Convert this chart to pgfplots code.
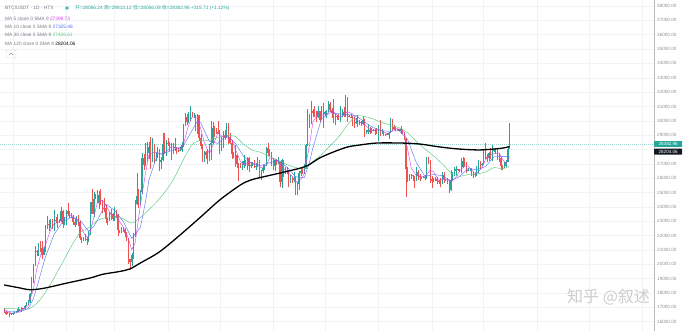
\documentclass[border=0pt]{standalone}
\usepackage{fontspec}
\setmainfont{Liberation Sans}
\newfontfamily\cjk{Noto Sans CJK SC}
\usepackage{pgfplots}
\usepackage{pgfplotstable}
\pgfplotsset{compat=1.18}
\definecolor{upc}{HTML}{26A69A}
\definecolor{dnc}{HTML}{EF5350}
\definecolor{ma5}{HTML}{D63CE8}
\definecolor{ma10}{HTML}{4A6CF7}
\definecolor{ma30}{HTML}{5CC97A}
\definecolor{gridc}{HTML}{F1F3F7}
\definecolor{txtg}{HTML}{787B86}
\definecolor{tagblk}{HTML}{131722}
\newcommand\hdr{\fontsize{4.8}{5}\selectfont}
\newcommand\tkf{\fontsize{4.6}{5}\selectfont}

\pgfplotstableread{
i o h l c
0 16840 16950 16600 16700
1 16700 16780 16480 16550
2 16550 16660 16520 16630
3 16630 16640 16340 16600
4 16600 16640 16480 16540
5 16540 16630 16500 16620
6 16620 16760 16550 16680
7 16680 16780 16600 16680
8 16680 16990 16650 16860
9 16860 16880 16750 16830
10 16830 16990 16670 16950
11 16950 16970 16910 16940
12 16940 17180 16910 17120
13 17120 17390 17100 17180
14 17180 17490 17150 17440
15 17440 17990 17330 17940
16 17940 19110 17900 18850
17 18850 19990 18720 19930
18 19930 21260 19890 20960
19 20960 20990 20600 20880
20 20880 21460 20600 21170
21 21170 21610 20870 21140
22 21140 21650 20400 20680
23 20680 21180 20660 21070
24 21070 22750 20870 22670
25 22670 23370 22440 22780
26 22780 23080 22300 22710
27 22710 23170 22500 22920
28 22920 23160 22480 22630
29 22630 23800 22340 23060
30 23060 23290 22870 23010
31 23010 23500 22550 23080
32 23080 23170 22880 23030
33 23030 23960 22980 23740
34 23740 23790 22550 22830
35 22830 23310 22730 23130
36 23130 23810 22760 23730
37 23730 24250 23370 23490
38 23490 23690 23230 23430
39 23430 23580 23250 23330
40 23330 23430 22750 22940
41 22940 23160 22630 22760
42 22760 23360 22740 23250
43 23250 23450 22690 22960
44 22960 22990 21690 21800
45 21800 21930 21450 21630
46 21630 21900 21600 21860
47 21860 22090 21630 21780
48 21780 21880 21360 21770
49 21770 22330 21530 22200
50 22200 24370 22050 24330
51 24330 25250 23500 23520
52 23520 25020 23330 24570
53 24570 24870 24520 24630
54 24630 25190 24240 24290
55 24290 25120 23850 24840
56 24840 25270 24150 24440
57 24440 24470 23580 24190
58 24190 24600 23610 23950
59 23950 24140 22850 23190
60 23190 23210 22740 23160
61 23160 23670 23050 23560
62 23560 23880 23110 23490
63 23490 23600 23030 23130
64 23130 23970 23020 23640
65 23640 23780 23200 23470
66 23470 23480 21970 22360
67 22360 22400 22180 22350
68 22350 22620 22200 22430
69 22430 22600 22280 22410
70 22410 22550 21930 22200
71 22200 22270 21590 21700
72 21700 21820 20050 20360
73 20360 20400 19570 20190
74 20190 20790 19900 20630
75 20630 22170 20400 22140
76 22140 24500 21890 24200
77 24200 26390 24100 24760
78 24760 25250 23900 24380
79 24380 25200 24130 25050
80 25050 27760 24900 27420
81 27420 27720 26600 26910
82 26910 28450 26870 28040
83 28040 28530 27170 27780
84 27780 28500 27360 28180
85 28180 28900 26630 27300
86 27300 28800 27160 28330
87 28330 28380 27030 27490
88 27490 27800 27170 27490
89 27490 28200 27440 27990
90 27990 28020 26520 27140
91 27140 27500 26640 27270
92 27270 29180 27220 28360
93 28360 29160 27720 28030
94 28030 28660 27530 28480
95 28480 28810 28250 28450
96 28450 28530 27880 28210
97 28210 28480 27260 27800
98 27800 28450 27660 28170
99 28170 28770 27900 28180
100 28180 28180 27720 28040
101 28040 28110 27800 27930
102 27930 28180 27870 27960
103 27960 28530 27810 28340
104 28340 29770 28180 29660
105 29660 30560 29610 30240
106 30240 30500 29700 29900
107 29900 30620 29880 30400
108 30400 31000 29970 30490
109 30490 30610 30230 30320
110 30320 30550 30160 30320
111 30320 30400 29280 29450
112 29450 30480 29100 30390
113 30390 30410 28600 28820
114 28820 29100 28020 28250
115 28250 28370 27130 27270
116 27270 27880 27140 27820
117 27820 27900 27330 27590
118 27590 28000 26970 27520
119 27520 28380 27210 28310
120 28310 30020 27250 28420
121 28420 29890 28380 29480
122 29480 29620 28900 29340
123 29340 29470 29100 29250
124 29250 29960 29080 29230
125 29230 29340 27660 28090
126 28090 28880 27870 28680
127 28680 29260 28130 29030
128 29030 29380 28680 28850
129 28850 29850 28820 29530
130 29530 29820 28390 28900
131 28900 29160 28380 28450
132 28450 28660 27350 27660
133 27660 27830 27380 27630
134 27630 28320 26770 27600
135 27600 27640 26700 26990
136 26990 27040 25810 26800
137 26800 27030 26710 26790
138 26790 27200 26600 26930
139 26930 27650 26740 27170
140 27170 27270 26870 27030
141 27030 27480 26580 27410
142 27410 27480 26400 26830
143 26830 27140 26680 26890
144 26890 27160 26860 27120
145 27120 27260 26680 26750
146 26750 27050 26540 26850
147 26850 27480 26810 27220
148 27220 27300 26090 26330
149 26330 26600 25870 26480
150 26480 26920 26330 26720
151 26720 26920 26560 26870
152 26870 28190 26830 28080
153 28080 28450 27560 27740
154 27740 28050 27570 27700
155 27700 27830 26840 27210
156 27210 27350 26600 26820
157 26820 27300 26510 27250
158 27250 27320 26920 27070
159 27070 27450 26970 27120
160 27120 27130 25400 25730
161 25730 27360 25350 27240
162 27240 27300 26100 26350
163 26350 26790 26290 26500
164 26500 26770 26320 26480
165 26480 26530 25380 25840
166 25840 26210 25640 25940
167 25940 26080 25640 25900
168 25900 26400 25730 25920
169 25920 26080 24820 25120
170 25120 25750 24800 25570
171 25570 26480 25160 26330
172 26330 26770 26170 26510
173 26510 26680 26280 26340
174 26340 27000 26260 26840
175 26840 28400 26620 28310
176 28310 30790 28260 30000
177 30000 30500 29530 29890
178 29890 31400 29810 30690
179 30690 30800 30260 30530
180 30530 31040 30290 30460
181 30460 30650 29900 30270
182 30270 31000 30220 30690
183 30690 30700 29920 30080
184 30080 31000 30030 30450
185 30450 31250 29510 30470
186 30470 30660 30330 30590
187 30590 30780 30200 30620
188 30620 31380 30590 31160
189 31160 31330 30630 30770
190 30770 30880 30200 30510
191 30510 31500 29850 29900
192 29900 30450 29700 30350
193 30350 30380 30050 30290
194 30290 30440 30050 30170
195 30170 31030 29950 30410
196 30410 30800 30280 30620
197 30620 30990 30250 30380
198 30380 31800 30250 31470
199 31470 31640 29940 30320
200 30320 30390 30260 30290
201 30290 30440 30180 30230
202 30230 30340 29660 30140
203 30140 30240 29510 29860
204 29860 30190 29770 29920
205 29920 30410 29570 29800
206 29800 30050 29720 29900
207 29900 29990 29640 29790
208 29790 30340 29740 30080
209 30080 30100 28860 29180
210 29180 29370 29060 29230
211 29230 29690 29100 29350
212 29350 29570 29070 29210
213 29210 29530 29120 29320
214 29320 29410 29260 29360
215 29360 29450 29030 29280
216 29280 29530 29100 29230
217 29230 29740 28580 29700
218 29700 30050 28950 29180
219 29180 29410 29100 29180
220 29180 29310 28970 29080
221 29080 29110 28950 29050
222 29050 29170 28980 29040
223 29040 29250 28700 29180
224 29180 30200 29120 29770
225 29770 30130 29370 29560
226 29560 29700 29330 29430
227 29430 29550 29300 29400
228 29400 29460 29360 29420
229 29420 29460 29260 29280
230 29280 29670 29080 29410
231 29410 29450 29060 29170
232 29170 29230 28690 28700
233 28700 28770 24700 26620
234 26620 26800 25700 26050
235 26050 26260 25800 26090
236 26090 26300 25970 26190
237 26190 26250 25810 26120
238 26120 26130 25350 26040
239 26040 26800 25800 26430
240 26430 26560 25860 26160
241 26160 26300 25770 26050
242 26050 26100 25970 26000
243 26000 26170 25980 26090
244 26090 26240 25880 26100
245 26100 27500 25910 27400
246 27400 27450 27000 27200
247 27200 27300 25660 25940
248 25940 26120 25330 25800
249 25800 25980 25730 25870
250 25870 26110 25810 25970
251 25970 26100 25610 25820
252 25820 25870 25570 25780
253 25780 26010 25380 25750
254 25750 26420 25630 26240
255 26240 26440 25650 25910
256 25910 25940 25800 25900
257 25900 25980 25580 25840
258 25840 25880 25000 25160
259 25160 26540 25130 25840
260 25840 26400 25770 26230
261 26230 26810 26130 26530
262 26530 26880 26230 26610
263 26610 26670 26480 26570
264 26570 26620 26400 26530
265 26530 27400 26380 26760
266 26760 27490 26680 27210
267 27210 27380 26850 27130
268 27130 27160 26380 26570
269 26570 26740 26480 26580
270 26580 26640 26520 26580
271 26580 26730 26130 26250
272 26250 26430 25990 26300
273 26300 26390 26100 26220
274 26220 26820 26120 26350
275 26350 27300 26340 27020
276 27020 27230 26670 26910
277 26910 27090 26880 26970
278 26970 28060 26960 27990
279 27990 28450 27320 27500
280 27500 27670 27160 27430
281 27430 27840 27220 27780
282 27780 28120 27370 27410
283 27410 28280 27170 27930
284 27930 28040 27860 27950
285 27950 28100 27710 27970
286 27970 28000 27280 27590
287 27590 27740 27100 27390
288 27390 27480 26560 26880
289 26880 26900 26540 26750
290 26750 27110 26680 26860
291 26860 27290 26800 27150
292 27150 28250 27100 28066
293 28066 29813 28066 28383
}\candles

\begin{document}
\begin{tikzpicture}
\useasboundingbox (0,0) rectangle (693pt,331pt);
\begin{axis}[
  at={(0pt,0pt)}, anchor=south west,
  width=654pt, height=331pt, scale only axis,
  xmin=-2.38, xmax=376.8, ymin=15352, ymax=38418,
  axis line style={draw=none},
  clip=false,
  major tick length=0pt,
  xtick={5,36,64,95,125,156,186,217,248,278,309,339,370},
  xticklabels={},
  ytick={16000,17000,18000,19000,20000,21000,22000,23000,24000,25000,26000,27000,29000,30000,31000,32000,33000,34000,35000,36000,37000,38000},
  extra y ticks={28000},
  extra y tick labels={},
  yticklabel pos=right,
  scaled y ticks=false,
  yticklabel style={font=\tkf, text=txtg!85, anchor=west, inner sep=0pt, xshift=3pt,
    /pgf/number format/.cd, fixed, fixed zerofill, precision=2, 1000 sep={}, assume math mode=true},
  grid=major,
  major grid style={gridc, line width=0.4pt},
  cndl/.style={draw=none, mark=none, forget plot,
    error bars/.cd, y dir=plus, y explicit, error mark=none},
  upsel/.style={restrict expr to domain={\thisrow{c}-\thisrow{o}}{0:100000}},
  dnsel/.style={restrict expr to domain={\thisrow{c}-\thisrow{o}}{-100000:-0.5}},
]
% price line
\addplot[upc!45, line width=0.35pt, dash pattern=on 0.8pt off 1.2pt, forget plot] coordinates {(-2.38,28382.96) (376.8,28382.96)};
% candles: wicks
\addplot[upsel, cndl, error bar style={draw=upc, line width=0.45pt}]
  table[x=i, y=l, y error plus expr={\thisrow{h}-\thisrow{l}}] {\candles};
\addplot[dnsel, cndl, error bar style={draw=dnc, line width=0.45pt}]
  table[x=i, y=l, y error plus expr={\thisrow{h}-\thisrow{l}}] {\candles};
% bodies
\addplot[upsel, cndl, error bar style={draw=upc, line width=1.2pt}]
  table[x=i, y=o, y error plus expr={\thisrow{c}-\thisrow{o}}] {\candles};
\addplot[dnsel, cndl, error bar style={draw=dnc, line width=1.2pt}]
  table[x=i, y=c, y error plus expr={\thisrow{o}-\thisrow{c}}] {\candles};
% MA30
\addplot[ma30, line width=0.45pt, smooth, tension=0.4] coordinates {
(0,16930)(4,16922)(9,16878)(14,16882)(19,17284)(24,18050)(29,19057)(34,20146)(39,21261)(44,22197)(49,22553)(54,23040)(59,23257)(64,23300)(69,23163)(74,22876)(79,23252)(84,23818)(89,24418)(94,25161)(99,26088)(104,27316)(109,28343)(114,28640)(119,28637)(124,28852)(129,28964)(134,28908)(139,28352)(144,27954)(149,27791)(154,27504)(159,27214)(164,26949)(169,26750)(174,26627)(179,27154)(184,27648)(189,28253)(194,28884)(199,29700)(204,30328)(209,30306)(214,30123)(219,29888)(224,29718)(229,29515)(234,29165)(239,28569)(244,28033)(249,27555)(254,27003)(259,26388)(264,26139)(269,26251)(274,26295)(279,26434)(284,26732)(289,26663)(293,26814)};
% MA10
\addplot[ma10, line width=0.4pt] coordinates {
(0,16790)(4,16692)(9,16669)(14,16930)(17,17604)(19,18419)(24,20529)(29,22083)(34,22979)(39,23280)(44,23082)(49,22295)(52,22642)(54,23058)(59,24195)(64,23759)(69,23000)(74,21810)(79,22561)(82,24372)(84,25886)(89,27693)(94,27788)(99,28009)(104,28274)(109,29328)(112,29951)(114,29858)(117,29072)(119,28574)(124,28423)(129,28990)(134,28442)(139,27492)(144,26996)(149,26891)(154,27074)(159,27258)(164,26777)(169,26102)(174,26031)(177,27083)(179,28101)(184,30137)(189,30556)(194,30483)(199,30442)(204,30364)(209,29919)(214,29522)(219,29304)(224,29269)(229,29321)(234,28704)(236,28033)(239,27082)(244,26127)(249,26261)(254,26177)(259,25821)(264,26112)(269,26672)(274,26595)(279,26809)(284,27489)(289,27508)(293,27499)};
% MA5
\addplot[ma5, line width=0.4pt] coordinates {
(0,16760)(2,16690)(4,16604)(7,16624)(9,16734)(12,16940)(14,17126)(17,18268)(19,19712)(22,20966)(24,21346)(27,22430)(29,22820)(32,22962)(34,23138)(37,23384)(39,23422)(42,23142)(44,22742)(47,22006)(49,21848)(52,23278)(54,24268)(57,24478)(59,24122)(62,23470)(64,23396)(67,22990)(69,22604)(72,21820)(74,21016)(76,21504)(79,24106)(82,26360)(84,27666)(87,27816)(89,27720)(92,27650)(94,27856)(97,28194)(99,28162)(102,28056)(104,28386)(107,29708)(109,30270)(112,30194)(114,29446)(116,28510)(119,27702)(121,28264)(124,29144)(127,28856)(129,28836)(132,28678)(134,28048)(137,27162)(139,26936)(142,27074)(144,27056)(147,26966)(149,26726)(152,26896)(154,27422)(157,27344)(159,27094)(162,26702)(164,26460)(167,26132)(169,25744)(172,25890)(174,26318)(176,27600)(177,28276)(179,29884)(182,30528)(184,30390)(187,30442)(189,30722)(192,30538)(194,30244)(197,30374)(199,30640)(202,30490)(204,30088)(207,29854)(209,29750)(212,29410)(214,29294)(217,29378)(219,29314)(222,29106)(224,29224)(227,29468)(229,29418)(232,29196)(234,27990)(236,26730)(239,26174)(242,26136)(244,26080)(247,26546)(249,26442)(252,25848)(254,25912)(257,25928)(259,25730)(262,26074)(264,26494)(267,26840)(269,26850)(272,26456)(274,26340)(277,26694)(279,27278)(282,27622)(284,27700)(287,27766)(289,27316)(291,27006)(293,27442)};
% MA120
\addplot[black, line width=1.3pt, smooth, tension=0.5] coordinates {
(0,18560)(8,18380)(15,18230)(23,18330)(36,18680)(50,19050)(57,19300)(67,19500)(73,19680)(79,20090)(90,20860)(102,22040)(114,23300)(125,24480)(137,25530)(143,25870)(148,26030)(160,26360)(172,26710)(176,26880)(183,27410)(191,27830)(199,28170)(206,28310)(216,28450)(230,28450)(241,28380)(253,28170)(264,28030)(276,27970)(288,28080)(293,28204)};
\draw[gray!55, line width=0.5pt] (rel axis cs:1,0) -- (rel axis cs:1,1);
\coordinate (tagA) at (axis cs:376.8,28382.96);
\coordinate (tagB) at (axis cs:376.8,27850);
\end{axis}
% price tags
\node[fill=upc, text=white, font=\tkf, anchor=west, inner sep=0.6pt, minimum width=28pt, minimum height=5.8pt, rounded corners=0.6pt] at (tagA) {28382.96};
\node[fill=tagblk, text=white, font=\tkf, anchor=west, inner sep=0.6pt, minimum width=28pt, minimum height=5.8pt, rounded corners=0.6pt] at (tagB) {28204.06};
% header
\node[anchor=west, inner sep=0pt, font=\hdr, text=txtg] at (5pt,323pt) {BTC/USDT · 1D · HTX};
\fill[upc!25] (67pt,323pt) circle (2.4pt);
\fill[upc] (67pt,323pt) circle (1.4pt);
\node[anchor=west, inner sep=0pt, font=\hdr, text=upc] at (75pt,323pt) {{\cjk 开}=28066.24 {\cjk 高}=29813.12 {\cjk 低}=28066.08 {\cjk 收}=28382.96 +315.71 (+1.12\%)};
\node[anchor=west, inner sep=0pt, font=\hdr, text=txtg] at (5pt,312pt) {MA 5 close 0 SMA 9 \textcolor{ma5}{27399.73}};
\node[anchor=west, inner sep=0pt, font=\hdr, text=txtg] at (5pt,304pt) {MA 10 close 0 SMA 9 \textcolor{ma10}{27325.48}};
\node[anchor=west, inner sep=0pt, font=\hdr, text=txtg] at (5pt,296pt) {MA 30 close 0 SMA 9 \textcolor{ma30}{27426.61}};
\node[anchor=west, inner sep=0pt, font=\hdr, text=txtg] at (5pt,287pt) {MA 120 close 0 SMA 9 \textcolor{black}{28204.06}};
\draw[gray!30, line width=0.4pt, rounded corners=1pt] (6pt,273pt) rectangle (16pt,281pt);
\draw[gray!80, line width=0.4pt] (9pt,276pt) -- (11pt,278pt) -- (13pt,276pt);
% watermark
\node[anchor=west, inner sep=0pt, font=\cjk\fontsize{16}{16}\selectfont, text=gray!40] at (567pt,34pt) {知乎 @叙述};
\end{tikzpicture}
\end{document}
